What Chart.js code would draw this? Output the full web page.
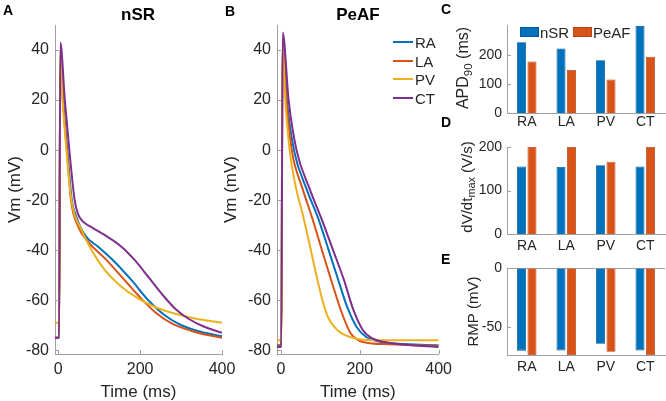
<!DOCTYPE html>
<html><head><meta charset="utf-8">
<script src="https://cdn.jsdelivr.net/npm/chart.js@4.4.1/dist/chart.umd.min.js"></script>
<style>
html,body{margin:0;padding:0;background:#fff;}
body{width:666px;height:401px;position:relative;overflow:hidden;font-family:"Liberation Sans",Arial,sans-serif;color:#262626;}
canvas{position:absolute;}
.lbl{position:absolute;white-space:nowrap;line-height:1;}
.panel{font-weight:bold;font-size:14px;color:#000;}
.ttl{font-weight:bold;font-size:17px;color:#000;transform:translate(-50%,-50%);}
.rot{transform:translate(-50%,-50%) rotate(-90deg);}
.rot sub{font-size:0.72em;vertical-align:-0.35em;line-height:0;}
.leg{font-size:15px;transform:translateY(-50%);}
.sw{position:absolute;}
</style></head><body>
<canvas id="cA" width="245" height="401" style="left:0;top:0"></canvas>
<canvas id="cB" width="236" height="401" style="left:222px;top:0"></canvas>
<canvas id="cC" width="226" height="132" style="left:440px;top:0"></canvas>
<canvas id="cD" width="226" height="122" style="left:440px;top:132px"></canvas>
<canvas id="cE" width="226" height="147" style="left:440px;top:254px"></canvas>

<div class="lbl panel" style="left:3px;top:3px">A</div>
<div class="lbl panel" style="left:225px;top:4px">B</div>
<div class="lbl panel" style="left:441px;top:2px">C</div>
<div class="lbl panel" style="left:441px;top:115px">D</div>
<div class="lbl panel" style="left:441px;top:252px">E</div>
<div class="lbl ttl" style="left:138px;top:14px">nSR</div>
<div class="lbl ttl" style="left:358px;top:14px">PeAF</div>

<div class="lbl rot" style="left:463px;top:68px;font-size:16px">APD<sub>90</sub> (ms)</div>
<div class="lbl rot" style="left:466px;top:187px;font-size:15px">dV/dt<sub>max</sub> (V/s)</div>

<div class="sw" style="left:393px;top:41px;width:20px;height:2px;background:#0072BD"></div>
<div class="sw" style="left:393px;top:60px;width:20px;height:2px;background:#D95319"></div>
<div class="sw" style="left:393px;top:78px;width:20px;height:2px;background:#EDB120"></div>
<div class="sw" style="left:393px;top:97px;width:20px;height:2px;background:#7E2F8E"></div>
<div class="lbl leg" style="left:415px;top:42px">RA</div>
<div class="lbl leg" style="left:415px;top:61px">LA</div>
<div class="lbl leg" style="left:415px;top:79px">PV</div>
<div class="lbl leg" style="left:415px;top:98px">CT</div>

<div class="sw" style="left:520px;top:27px;width:19px;height:10px;background:#0072BD;box-sizing:border-box;border:1px solid #005a96"></div>
<div class="lbl leg" style="left:540px;top:32px">nSR</div>
<div class="sw" style="left:573px;top:27px;width:19px;height:10px;background:#D95319;box-sizing:border-box;border:1px solid #b5441a"></div>
<div class="lbl leg" style="left:593px;top:32px">PeAF</div>

<script>
// ---------- data ----------
const timeTicks = [0, 200, 400];
const vmTicks = [-80, -60, -40, -20, 0, 20, 40];
const regions = ['RA', 'LA', 'PV', 'CT'];

// nSR action potentials (time ms, Vm mV)
const nsrRA_t = [-8, 2, 5, 12, 22, 33, 41, 65, 98, 138, 179, 220, 260, 301, 350, 400];
const nsrRA_v = [-75, -75, 38, 20, 0, -20, -25.3, -34, -38.7, -44.7, -52, -60, -66, -70, -72.7, -74.4];
const nsrLA_t = [-8, 2, 5, 11, 21, 31, 49, 73, 114, 155, 195, 236, 277, 334, 400];
const nsrLA_v = [-75, -75, 37, 20, 0, -20, -30.7, -36.7, -43.3, -50.7, -58, -64.7, -69.3, -72.7, -75];
const nsrPV_t = [-8, 2, 5, 10.7, 20, 32, 57, 81.5, 114, 155, 195, 236, 277, 334, 400];
const nsrPV_v = [-69, -69, 40, 20, 0, -20, -32, -40, -48, -54.7, -59.3, -62.7, -65, -67.3, -69];
const nsrCT_t = [-8, 2, 5, 16, 27, 40, 48, 60, 80, 114, 155, 187, 220, 252, 285, 317, 358, 400];
const nsrCT_v = [-75, -75, 43, 20, 0, -20, -25.5, -28.5, -30.7, -34, -38.7, -44, -50.7, -57.3, -63.3, -67.3, -70.7, -73];

// PeAF action potentials
const afRA_t = [-10, 1, 4, 15, 33, 66, 95, 119, 143.5, 168, 192, 216, 257, 400];
const afRA_v = [-78, -78, 44, 20, 0, -16, -27.5, -39, -51, -62.7, -70.7, -74.7, -76.7, -78];
const afLA_t = [-10, 1, 4, 13.6, 27.5, 55, 79, 103, 127.5, 152, 176, 208, 273, 400];
const afLA_v = [-78.3, -78.3, 43, 20, 0, -15.5, -27, -39.5, -52, -64, -73, -76.7, -77.6, -78.3];
const afPV_t = [-10, 1, 4, 11, 22, 38, 55, 71, 87, 103, 119, 143.5, 176, 232, 400];
const afPV_v = [-76, -76, 42, 20, 0, -15, -25.5, -36.5, -48, -58.7, -66.7, -72, -74.7, -76, -76];
const afCT_t = [-10, 1, 4.4, 19.5, 39.5, 74, 103, 131, 160, 184, 208, 232, 273, 400];
const afCT_v = [-78.7, -78.7, 47, 20, 0, -16, -27.5, -39.5, -52, -64, -72, -75.3, -77, -78.7];

// bar panels
const apdTicks = [0, 100, 200];
const apdNSR = [244, 222, 182, 300];
const apdPeAF = [177, 148, 115, 194];
const dvdtTicks = [0, 100, 200];
const dvdtNSR = [155, 154, 158, 155];
const dvdtPeAF = [200, 200, 166, 200];
const rmpTicks = [-50, 0];
const rmpNSR = [-70.3, -70.1, -64.4, -70.1];
const rmpPeAF = [-74, -74, -71.2, -74];

// ---------- styling ----------
const COL = {RA: '#0072BD', LA: '#D95319', PV: '#EDB120', CT: '#7E2F8E'};
const AXC = '#a0a0a0';
const TXT = '#262626';
const FAM = '"Liberation Sans", Arial, sans-serif';
Chart.defaults.font.family = FAM;
Chart.defaults.color = TXT;

const inTicks = {
  id: 'inTicks',
  afterDraw(chart, args, opts) {
    const ctx = chart.ctx, a = chart.chartArea;
    ctx.save();
    ctx.strokeStyle = AXC; ctx.lineWidth = 1;
    (opts.axes || []).forEach(id => {
      const s = chart.scales[id];
      s.ticks.forEach(t => {
        const p = Math.round(s.getPixelForValue(t.value)) + 0.5;
        ctx.beginPath();
        if (s.isHorizontal()) { ctx.moveTo(p, a.bottom); ctx.lineTo(p, a.bottom - 4); }
        else { ctx.moveTo(a.left, p); ctx.lineTo(a.left + 4, p); }
        ctx.stroke();
      });
    });
    ctx.restore();
  }
};

function series(t, v) { return t.map((x, i) => ({x: x, y: v[i]})); }
function setTicks(arr) { return s => { s.ticks = arr.map(v => ({value: v})); }; }

function lineChart(id, sets, xmin, padRight, yTitlePad) {
  const names = ['RA', 'LA', 'PV', 'CT'];
  return new Chart(document.getElementById(id), {
    type: 'line',
    data: {
      datasets: sets.map((d, i) => ({
        label: names[i], data: series(d[0], d[1]),
        borderColor: COL[names[i]], backgroundColor: COL[names[i]],
        borderWidth: 2, pointRadius: 0, cubicInterpolationMode: 'monotone',
        order: 3 - i, fill: false
      }))
    },
    options: {
      responsive: false, animation: false, events: [],
      layout: {padding: {top: 25, left: 0, right: padRight, bottom: 0}},
      plugins: {legend: {display: false}, tooltip: {enabled: false}, inTicks: {axes: ['x', 'y']}},
      scales: {
        x: {
          type: 'linear', min: xmin, max: 400,
          afterBuildTicks: setTicks(timeTicks),
          afterFit: s => { s.height = 47; },
          grid: {display: false, drawTicks: false}, border: {display: true, color: AXC, width: 1},
          ticks: {font: {size: 16}, color: TXT, padding: 6, maxRotation: 0},
          title: {display: true, text: 'Time (ms)', font: {size: 17, lineHeight: 1}, color: TXT, padding: {top: 0, bottom: 0}}
        },
        y: {
          type: 'linear', min: -81.5, max: 50,
          afterBuildTicks: setTicks(vmTicks),
          afterFit: s => { s.width = 55; },
          grid: {display: false, drawTicks: false}, border: {display: true, color: AXC, width: 1},
          ticks: {font: {size: 16}, color: TXT, padding: 6},
          title: {display: true, text: 'Vm (mV)', font: {size: 17, lineHeight: 1}, color: TXT, padding: {top: yTitlePad, bottom: 0}}
        }
      }
    },
    plugins: [inTicks]
  });
}

lineChart('cA', [[nsrRA_t, nsrRA_v], [nsrLA_t, nsrLA_v], [nsrPV_t, nsrPV_v], [nsrCT_t, nsrCT_v]], -8, 23, 6.5);
lineChart('cB', [[afRA_t, afRA_v], [afLA_t, afLA_v], [afPV_t, afPV_v], [afCT_t, afCT_v]], -10, 14, 0.5);

function barChart(id, nsr, peaf, ymin, ymax, yticks, padTop, xHeight, labPad, yTitle, zeroTop) {
  return new Chart(document.getElementById(id), {
    type: 'bar',
    data: {
      labels: regions,
      datasets: [
        {label: 'nSR', data: nsr, backgroundColor: '#0072BD', borderColor: '#005a96', borderWidth: 0.8,
         categoryPercentage: 0.53, barPercentage: 0.86},
        {label: 'PeAF', data: peaf, backgroundColor: '#D95319', borderColor: '#b5441a', borderWidth: 0.8,
         categoryPercentage: 0.53, barPercentage: 0.86}
      ]
    },
    options: {
      responsive: false, animation: false, events: [],
      layout: {padding: {top: padTop, left: 0, right: 1, bottom: 0}},
      plugins: {legend: {display: false}, tooltip: {enabled: false}, inTicks: {axes: ['y']}},
      scales: {
        x: {
          afterFit: s => { s.height = xHeight; },
          grid: {display: false, drawTicks: false}, border: {display: true, color: AXC, width: 1},
          ticks: {font: {size: 14}, color: TXT, padding: labPad, maxRotation: 0}
        },
        y: {
          min: ymin, max: ymax,
          afterBuildTicks: setTicks(yticks),
          afterFit: s => { s.width = 67; },
          grid: zeroTop ? {display: true, drawTicks: false, drawOnChartArea: true,
                 color: c => (c.tick && c.tick.value === 0) ? AXC : 'rgba(0,0,0,0)'} : {display: false, drawTicks: false},
          border: {display: true, color: AXC, width: 1},
          ticks: {font: {size: 14}, color: TXT, padding: 5},
          title: yTitle ? {display: true, text: yTitle, font: {size: 15, lineHeight: 1}, color: TXT, padding: {top: 26.5, bottom: 0}} : {display: false}
        }
      }
    },
    plugins: [inTicks]
  });
}

barChart('cC', apdNSR, apdPeAF, 0, 303, apdTicks, 25, 19, 1, null, false);
barChart('cD', dvdtNSR, dvdtPeAF, 0, 200, dvdtTicks, 15, 20, 4, null, false);
barChart('cE', rmpNSR, rmpPeAF, -74, 0, rmpTicks, 14, 46, 4, 'RMP (mV)', true);
</script>
</body></html>
